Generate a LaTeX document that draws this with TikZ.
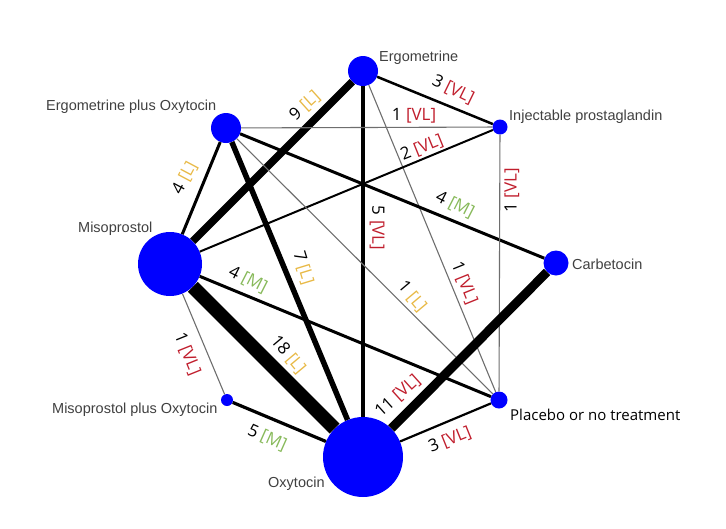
\documentclass[tikz,border=0pt]{standalone}
\usepackage{fontspec}
\setmainfont{Liberation Sans}
\newfontfamily\gradefont{Open Sans}
\definecolor{vlred}{RGB}{192,30,45}
\definecolor{lgold}{RGB}{232,185,70}
\definecolor{mgreen}{RGB}{135,185,90}
\definecolor{druggray}{RGB}{64,64,64}
\definecolor{thingray}{RGB}{110,110,110}
\newcommand{\vlgrade}[1]{#1 \textcolor{vlred}{[VL]}}
\newcommand{\lgrade}[1]{#1 \textcolor{lgold}{[L]}}
\newcommand{\mgrade}[1]{#1 \textcolor{mgreen}{[M]}}
\tikzset{
  drugnode/.style={circle,fill=blue,draw=none,inner sep=0pt,minimum size=#1},
  druglabel/.style={anchor=west,inner sep=0pt,text=druggray,font=\fontsize{14.5}{16}\selectfont},
  evidence/.style={inner sep=0pt,font=\gradefont\fontsize{17}{19}\selectfont},
  thinedge/.style={draw=thingray,line width=1.1pt}
}
\begin{document}
\begin{tikzpicture}[x=1pt,y=-1pt]
  \useasboundingbox (0,0) rectangle (726,528);

  \node[drugnode=30pt] (ergo) at (363,71) {};
  \node[drugnode=15pt] (inj) at (500,127) {};
  \node[drugnode=25pt] (carb) at (556,263) {};
  \node[drugnode=30pt] (ergoxy) at (226,128) {};
  \node[drugnode=64pt] (miso) at (170,264) {};
  \node[drugnode=12pt] (misoxy) at (227,400) {};
  \node[drugnode=80pt] (oxy) at (363,457) {};
  \node[drugnode=17pt] (plac) at (499,400) {};

  \node[druglabel] (ergoL) at (379,58) {Ergometrine};
  \node[druglabel] (injL) at (509,117) {Injectable prostaglandin};
  \node[druglabel] (carbL) at (572,264) {Carbetocin};
  \node[druglabel] (ergoxyL) at (46,107) {Ergometrine plus Oxytocin};
  \node[druglabel] (misoL) at (78,229) {Misoprostol};
  \node[druglabel] (misoxyL) at (52,410) {Misoprostol plus Oxytocin};
  \node[druglabel] (oxyL) at (268,484) {Oxytocin};
  \node[druglabel,text=black,font=\gradefont\fontsize{15}{17}\selectfont] (placL) at (510,415) {Placebo or no treatment};

  \draw[line width=2.5pt] (ergo) -- (inj);
  \draw[thinedge] (ergo) -- (plac);
  \draw[line width=4pt] (ergo) -- (oxy);
  \draw[line width=7.5pt] (ergo) -- (miso);
  \draw[thinedge] (ergoxy) -- (inj);
  \draw[line width=2pt] (inj) -- (miso);
  \draw[line width=3pt] (ergoxy) -- (carb);
  \draw[thinedge] (inj) -- (plac);
  \draw[thinedge] (ergoxy) -- (plac);
  \draw[line width=5.5pt] (ergoxy) -- (oxy);
  \draw[line width=3pt] (ergoxy) -- (miso);
  \draw[line width=3pt] (miso) -- (plac);
  \draw[line width=14pt] (miso) -- (oxy);
  \draw[thinedge] (miso) -- (misoxy);
  \draw[line width=3.2pt] (misoxy) -- (oxy);
  \draw[line width=9pt] (carb) -- (oxy);
  \draw[line width=2.2pt] (oxy) -- (plac);

  \node[evidence,rotate=-26] (e1) at (453,90) {\vlgrade{3}};
  \node[evidence] (e2) at (414,116) {\vlgrade{1}};
  \node[evidence,rotate=22] (e3) at (422,148) {\vlgrade{2}};
  \node[evidence,rotate=90] (e4) at (512,190) {\vlgrade{1}};
  \node[evidence,rotate=-27] (e5) at (455,205) {\mgrade{4}};
  \node[evidence,rotate=-90] (e6) at (377,228) {\vlgrade{5}};
  \node[evidence,rotate=-68] (e7) at (464,283) {\vlgrade{1}};
  \node[evidence,rotate=-50] (e8) at (412,297) {\lgrade{1}};
  \node[evidence,rotate=42] (e9) at (305,106) {\lgrade{9}};
  \node[evidence,rotate=62] (e10) at (185,178) {\lgrade{4}};
  \node[evidence,rotate=-73] (e11) at (303,268) {\lgrade{7}};
  \node[evidence,rotate=-27] (e12) at (248,280) {\mgrade{4}};
  \node[evidence,rotate=-68] (e13) at (187,354) {\vlgrade{1}};
  \node[evidence,rotate=-50] (e14) at (288,355) {\lgrade{18}};
  \node[evidence,rotate=-24] (e15) at (267,438) {\mgrade{5}};
  \node[evidence,rotate=42] (e16) at (398,396) {\vlgrade{11}};
  \node[evidence,rotate=22] (e17) at (450,440) {\vlgrade{3}};
\end{tikzpicture}
\end{document}
